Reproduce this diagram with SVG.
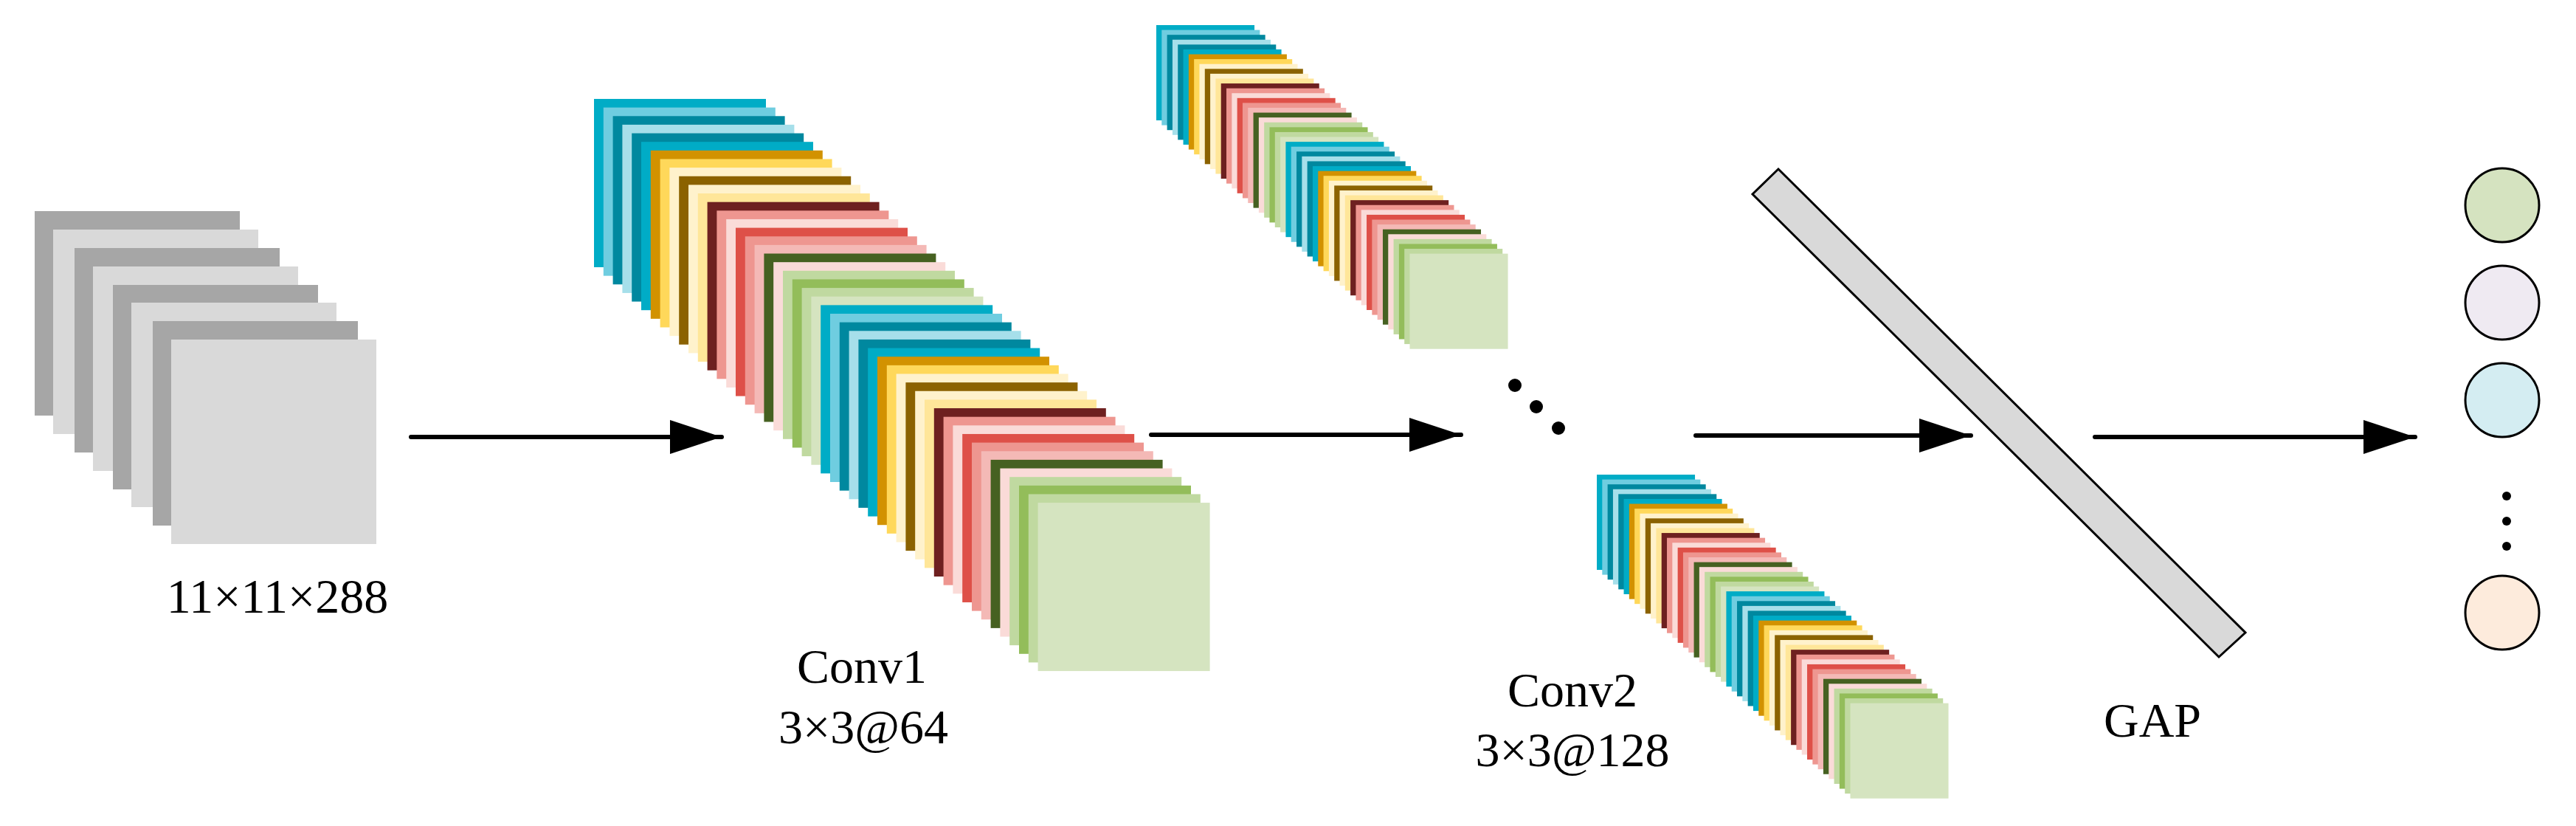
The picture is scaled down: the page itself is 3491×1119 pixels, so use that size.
<svg xmlns="http://www.w3.org/2000/svg" xmlns:xlink="http://www.w3.org/1999/xlink" width="3491" height="1119" viewBox="0 0 3491 1119">
<style>
.t{font-family:"Liberation Serif","Times New Roman",serif;font-size:66px;fill:#000;text-anchor:middle}
.g1{fill:#a6a6a6}.g2{fill:#d9d9d9}
.a{fill:#00acc6}.b{fill:#6fcde0}.c{fill:#00889f}.d{fill:#a6dfea}.e{fill:#d29200}.f{fill:#ffd85a}.g{fill:#fff2cc}.h{fill:#8b6200}.i{fill:#ffe699}.j{fill:#6e2020}.k{fill:#ee9690}.l{fill:#fadbd8}.m{fill:#de5048}.n{fill:#f4b9b6}.o{fill:#466121}.p{fill:#c0d9a0}.q{fill:#93bd5a}.r{fill:#d5e4c0}
.ln{stroke:#000;stroke-width:6;fill:none;stroke-linecap:round}
.out{stroke:#000;stroke-width:3}
</style>
<defs>
<marker id="ah" markerUnits="userSpaceOnUse" markerWidth="72" markerHeight="46" refX="70" refY="23" orient="auto"><polygon points="0,0 70,23 0,46" fill="#000"/></marker>
<g id="stack">
<g width="233" height="228">
<rect class="a" x="0" y="0" width="233" height="228"/>
<rect class="b" x="12.8" y="11.64" width="233" height="228"/>
<rect class="c" x="25.6" y="23.28" width="233" height="228"/>
<rect class="d" x="38.4" y="34.92" width="233" height="228"/>
<rect class="c" x="51.2" y="46.56" width="233" height="228"/>
<rect class="a" x="64" y="58.2" width="233" height="228"/>
<rect class="e" x="76.8" y="69.84" width="233" height="228"/>
<rect class="f" x="89.6" y="81.48" width="233" height="228"/>
<rect class="g" x="102.4" y="93.12" width="233" height="228"/>
<rect class="h" x="115.2" y="104.76" width="233" height="228"/>
<rect class="g" x="128" y="116.4" width="233" height="228"/>
<rect class="i" x="140.8" y="128.04" width="233" height="228"/>
<rect class="j" x="153.6" y="139.68" width="233" height="228"/>
<rect class="k" x="166.4" y="151.32" width="233" height="228"/>
<rect class="l" x="179.2" y="162.96" width="233" height="228"/>
<rect class="m" x="192" y="174.6" width="233" height="228"/>
<rect class="k" x="204.8" y="186.24" width="233" height="228"/>
<rect class="n" x="217.6" y="197.88" width="233" height="228"/>
<rect class="o" x="230.4" y="209.52" width="233" height="228"/>
<rect class="l" x="243.2" y="221.16" width="233" height="228"/>
<rect class="p" x="256" y="232.8" width="233" height="228"/>
<rect class="q" x="268.8" y="244.44" width="233" height="228"/>
<rect class="p" x="281.6" y="256.08" width="233" height="228"/>
<rect class="r" x="294.4" y="267.72" width="233" height="228"/>
<rect class="a" x="307.2" y="279.36" width="233" height="228"/>
<rect class="b" x="320" y="291" width="233" height="228"/>
<rect class="c" x="332.8" y="302.64" width="233" height="228"/>
<rect class="d" x="345.6" y="314.28" width="233" height="228"/>
<rect class="c" x="358.4" y="325.92" width="233" height="228"/>
<rect class="a" x="371.2" y="337.56" width="233" height="228"/>
<rect class="e" x="384" y="349.2" width="233" height="228"/>
<rect class="f" x="396.8" y="360.84" width="233" height="228"/>
<rect class="g" x="409.6" y="372.48" width="233" height="228"/>
<rect class="h" x="422.4" y="384.12" width="233" height="228"/>
<rect class="g" x="435.2" y="395.76" width="233" height="228"/>
<rect class="i" x="448" y="407.4" width="233" height="228"/>
<rect class="j" x="460.8" y="419.04" width="233" height="228"/>
<rect class="k" x="473.6" y="430.68" width="233" height="228"/>
<rect class="l" x="486.4" y="442.32" width="233" height="228"/>
<rect class="m" x="499.2" y="453.96" width="233" height="228"/>
<rect class="k" x="512" y="465.6" width="233" height="228"/>
<rect class="n" x="524.8" y="477.24" width="233" height="228"/>
<rect class="o" x="537.6" y="488.88" width="233" height="228"/>
<rect class="l" x="550.4" y="500.52" width="233" height="228"/>
<rect class="p" x="563.2" y="512.16" width="233" height="228"/>
<rect class="q" x="576" y="523.8" width="233" height="228"/>
<rect class="p" x="588.8" y="535.44" width="233" height="228"/>
<rect class="r" x="601.6" y="547.08" width="233" height="228"/>
</g>
</g>
</defs>
<g id="input">
<rect class="g1" x="47" y="286" width="278" height="277"/>
<rect class="g2" x="72" y="311" width="278" height="277"/>
<rect class="g1" x="101" y="336" width="278" height="277"/>
<rect class="g2" x="126" y="361" width="278" height="277"/>
<rect class="g1" x="153" y="386" width="278" height="277"/>
<rect class="g2" x="178" y="410" width="278" height="277"/>
<rect class="g1" x="207" y="435" width="278" height="277"/>
<rect class="g2" x="232" y="460" width="278" height="277"/>
<text class="t" x="376" y="830">11×11×288</text>
</g>
<g id="conv1">
<use xlink:href="#stack" transform="translate(805,134)"/>
<text class="t" x="1168" y="925">Conv1</text>
<text class="t" x="1170" y="1007">3×3@64</text>
</g>
<g id="conv2">
<use xlink:href="#stack" transform="translate(1567,34) scale(0.571,0.566)"/>
<use xlink:href="#stack" transform="translate(2164,643) scale(0.571,0.566)"/>
<circle cx="2053" cy="522" r="9"/>
<circle cx="2082" cy="551" r="9"/>
<circle cx="2112" cy="580" r="9"/>
<text class="t" x="2131" y="957">Conv2</text>
<text class="t" x="2131" y="1038">3×3@128</text>
</g>
<g id="gap">
<polygon class="out" points="2375,263 2410,229 3043,857 3007,890" fill="#d9d9d9"/>
<text class="t" x="2917" y="998">GAP</text>
</g>
<g id="output">
<circle class="out" cx="3391" cy="278" r="50" fill="#d5e3c0"/>
<circle class="out" cx="3391" cy="410" r="50" fill="#efeaf2"/>
<circle class="out" cx="3391" cy="542" r="50" fill="#d4edf2"/>
<circle cx="3397" cy="672" r="6"/>
<circle cx="3397" cy="706" r="6"/>
<circle cx="3397" cy="740" r="6"/>
<circle class="out" cx="3391" cy="830" r="50" fill="#fdebdc"/>
</g>
<g id="connectors">
<line class="ln" x1="557" y1="592" x2="978" y2="592" marker-end="url(#ah)"/>
<line class="ln" x1="1560" y1="589" x2="1980" y2="589" marker-end="url(#ah)"/>
<line class="ln" x1="2298" y1="590" x2="2671" y2="590" marker-end="url(#ah)"/>
<line class="ln" x1="2839" y1="592" x2="3273" y2="592" marker-end="url(#ah)"/>
</g>
</svg>
